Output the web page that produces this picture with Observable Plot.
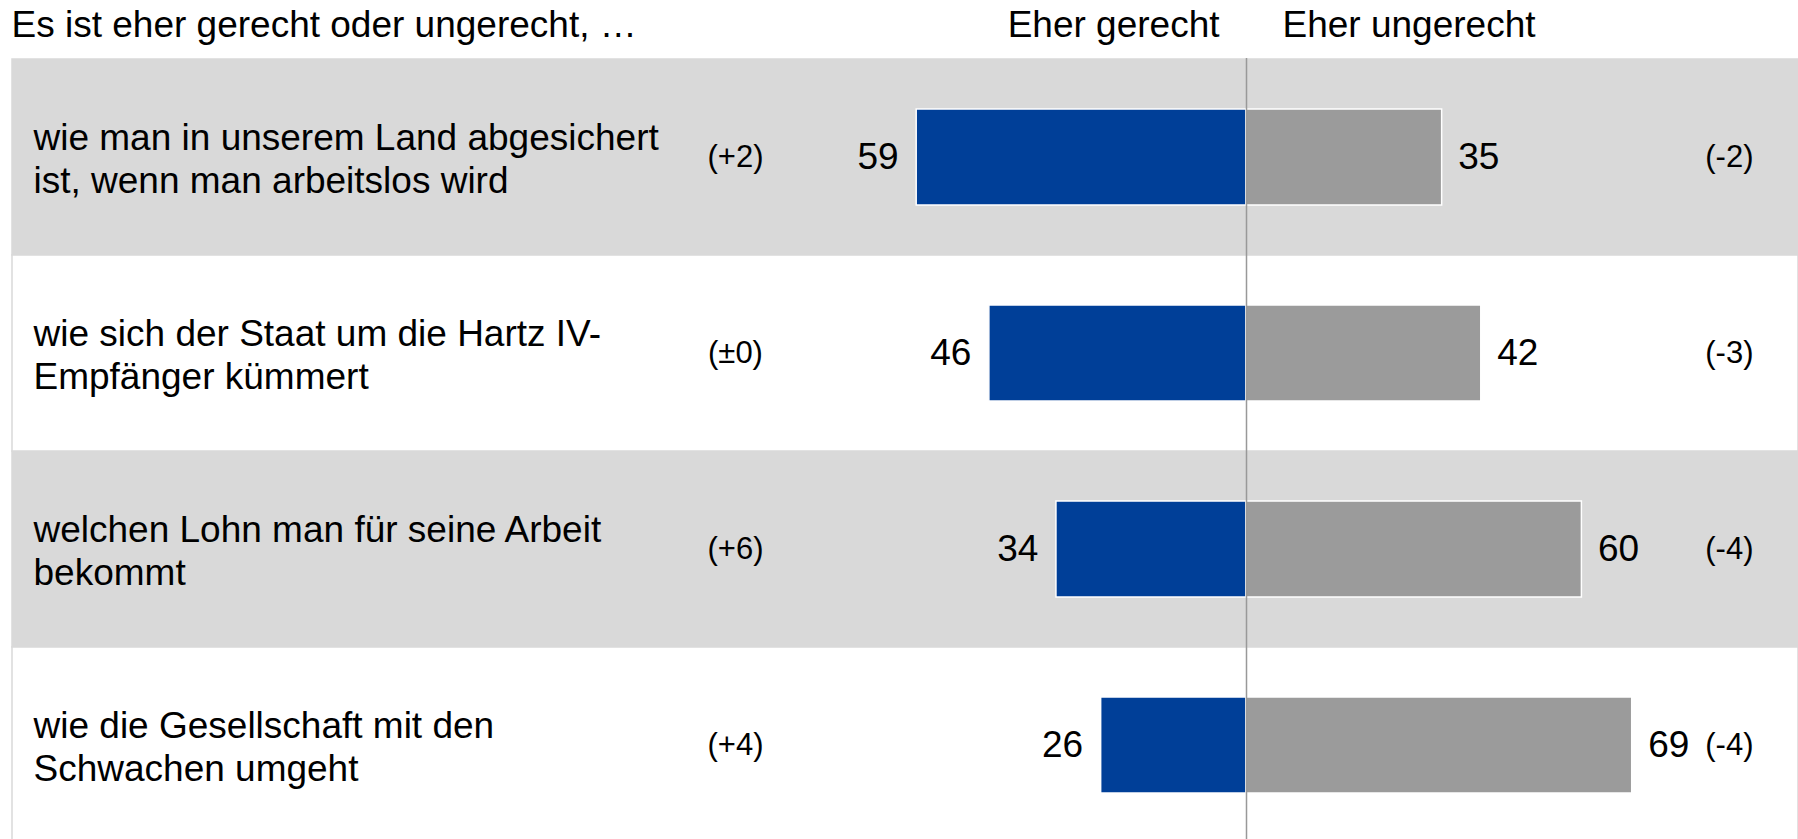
<!DOCTYPE html>
<html>
<head>
<meta charset="utf-8">
<script src="https://cdn.jsdelivr.net/npm/d3@7"></script>
<script src="https://cdn.jsdelivr.net/npm/@observablehq/plot@0.6"></script>
<style>
html, body { margin: 0; padding: 0; background: #ffffff; overflow: hidden; }
#chart svg { display: block; }
</style>
</head>
<body>
<div id="chart"></div>
<script>
// ---- data ----
const questionTitle = "Es ist eher gerecht oder ungerecht, …";
const sideLabels = ["Eher gerecht", "Eher ungerecht"];
const items = [
  "wie man in unserem Land abgesichert\nist, wenn man arbeitslos wird",
  "wie sich der Staat um die Hartz IV-\nEmpfänger kümmert",
  "welchen Lohn man für seine Arbeit\nbekommt",
  "wie die Gesellschaft mit den\nSchwachen umgeht"
];
const gerecht = [59, 46, 34, 26];
const ungerecht = [35, 42, 60, 69];
const changeGerecht = ["(+2)", "(±0)", "(+6)", "(+4)"];
const changeUngerecht = ["(-2)", "(-3)", "(-4)", "(-4)"];

// ---- layout ----
const W = 1798, H = 843, TOP = 58;
const center = 1246, pxPerUnit = 5.59;
const xDomain = [-center / pxPerUnit, (W - center) / pxPerUnit];

const rows = items.map((label, i) => ({
  label, g: gerecht[i], u: ungerecht[i],
  cg: changeGerecht[i], cu: changeUngerecht[i], shaded: i % 2 === 0
}));
const shadedRows = rows.filter(d => d.shaded);
const plainRows = rows.filter(d => !d.shaded);

const BLUE = "#003f98", GREY = "#9b9b9b", BAND = "#d9d9d9";
const FS = 37, FS_SMALL = 31;

const chart = Plot.plot({
  width: W,
  height: H,
  marginTop: TOP,
  marginBottom: 0,
  marginLeft: 0,
  marginRight: 0,
  style: { fontFamily: "Arial, 'Liberation Sans', sans-serif", color: "#000", background: "#fff" },
  x: { domain: xDomain, axis: null },
  y: { type: "band", domain: items, range: [TOP, H], padding: 0, axis: null },
  marks: [
    // row backgrounds
    Plot.barX(shadedRows, { y: "label", x1: xDomain[0], x2: xDomain[1], fill: BAND, stroke: BAND, strokeWidth: 1.5, insetLeft: 12 }),
    Plot.barX(plainRows, { y: "label", x1: xDomain[0], x2: xDomain[1], fill: "#ffffff", stroke: BAND, strokeWidth: 1.5, insetLeft: 12 }),
    // bars
    Plot.barX(rows, { y: "label", x1: 0, x2: d => -d.g, fill: BLUE, stroke: "#ffffff", strokeWidth: 1.5, insetTop: 50, insetBottom: 50 }),
    Plot.barX(rows, { y: "label", x1: 0, x2: "u", fill: GREY, stroke: "#ffffff", strokeWidth: 1.5, insetTop: 50, insetBottom: 50 }),
    // center line
    Plot.ruleX([0], { stroke: "#999999", strokeWidth: 1.5 }),
    // value labels
    Plot.text(rows, { x: d => -d.g, y: "label", text: d => String(d.g), textAnchor: "end", dx: -18, fontSize: FS }),
    Plot.text(rows, { x: "u", y: "label", text: d => String(d.u), textAnchor: "start", dx: 16, fontSize: FS }),
    // item labels
    Plot.text(rows, { y: "label", text: "label", frameAnchor: "left", textAnchor: "start", lineAnchor: "middle", dx: 33, lineHeight: 1.16, fontSize: FS }),
    // change labels
    Plot.text(rows, { y: "label", text: "cg", frameAnchor: "left", textAnchor: "middle", lineAnchor: "middle", dx: 735, fontSize: FS_SMALL }),
    Plot.text(rows, { y: "label", text: "cu", frameAnchor: "right", textAnchor: "end", lineAnchor: "middle", dx: -45, fontSize: FS_SMALL }),
    // headers
    Plot.text([questionTitle], { text: d => d, frameAnchor: "top-left", textAnchor: "start", lineAnchor: "middle", dx: 11, dy: -33, fontSize: FS }),
    Plot.text([sideLabels[0]], { x: 0, text: d => d, frameAnchor: "top", textAnchor: "end", lineAnchor: "middle", dx: -27, dy: -33, fontSize: FS }),
    Plot.text([sideLabels[1]], { x: 0, text: d => d, frameAnchor: "top", textAnchor: "start", lineAnchor: "middle", dx: 36, dy: -33, fontSize: FS })
  ]
});

document.getElementById("chart").appendChild(chart);
</script>
</body>
</html>
